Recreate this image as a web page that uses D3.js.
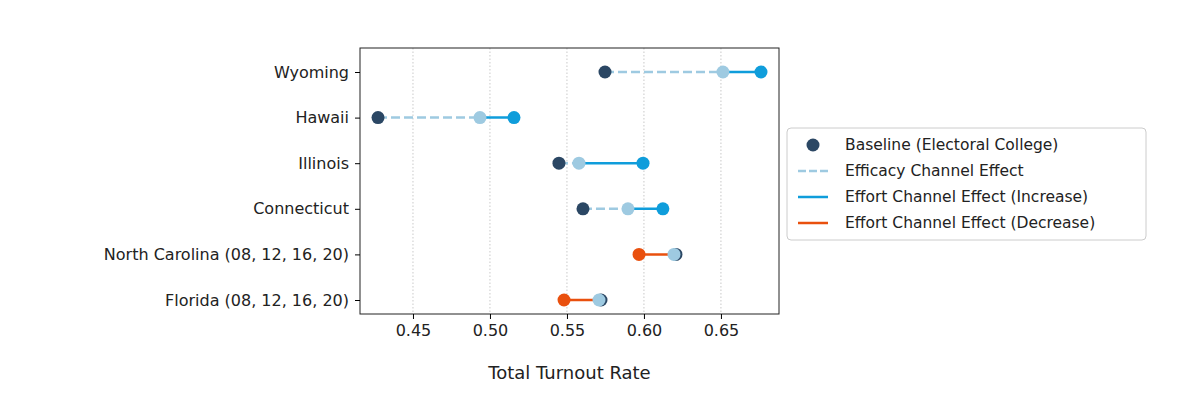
<!DOCTYPE html>
<html><head><meta charset="utf-8">
<script src="https://cdn.jsdelivr.net/npm/d3@7"></script>
<style>body{margin:0;background:#fff;font-family:"DejaVu Sans",sans-serif;}</style>
</head><body><svg id="c" width="1200" height="407"></svg>
<script>
var states = ["Wyoming", "Hawaii", "Illinois", "Connecticut", "North Carolina (08, 12, 16, 20)", "Florida (08, 12, 16, 20)"];
var baseline = [0.5747, 0.4273, 0.5448, 0.5604, 0.6208, 0.5721];
var efficacy = [0.6513, 0.4935, 0.5578, 0.5896, 0.6195, 0.5708];
var finalRate = [0.6760, 0.5156, 0.5994, 0.6123, 0.5968, 0.5481];
var xTicks = [0.45, 0.50, 0.55, 0.60, 0.65];

var dark = "#2b4764", light = "#9ecae1", blue = "#0f9ddb", orange = "#e9500e";
var pLeft = 360, pRight = 779, pTop = 48, pBottom = 314;
var svg = d3.select("#c");
var x = d3.scaleLinear().domain([0.4156, 0.6877]).range([pLeft, pRight]);
var y = d3.scalePoint().domain(states).range([72, 300]);

svg.selectAll("line.grid").data(xTicks).enter().append("line")
  .attr("x1", x).attr("x2", x).attr("y1", pTop).attr("y2", pBottom)
  .attr("stroke", "#bbb").attr("stroke-width", 0.8).attr("stroke-dasharray", "1.5,2");

var g = svg.append("g");
states.forEach(function (s, i) {
  var yy = y(s);
  g.append("line").attr("x1", x(baseline[i])).attr("x2", x(efficacy[i]))
    .attr("y1", yy).attr("y2", yy).attr("stroke", light).attr("stroke-width", 2.5)
    .attr("stroke-dasharray", "9,4");
  var up = finalRate[i] >= efficacy[i];
  g.append("line").attr("x1", x(efficacy[i])).attr("x2", x(finalRate[i]))
    .attr("y1", yy).attr("y2", yy).attr("stroke", up ? blue : orange).attr("stroke-width", 2.5);
  g.append("circle").attr("cx", x(baseline[i])).attr("cy", yy).attr("r", 6.5).attr("fill", dark);
  g.append("circle").attr("cx", x(efficacy[i])).attr("cy", yy).attr("r", 6.5).attr("fill", light);
  g.append("circle").attr("cx", x(finalRate[i])).attr("cy", yy).attr("r", 6.5).attr("fill", up ? blue : orange);
});

svg.append("rect").attr("x", pLeft).attr("y", pTop).attr("width", pRight - pLeft).attr("height", pBottom - pTop)
  .attr("fill", "none").attr("stroke", "#222").attr("stroke-width", 1);

svg.append("g").attr("transform", "translate(0," + pBottom + ")")
  .call(d3.axisBottom(x).tickValues(xTicks).tickFormat(d3.format(".2f")).tickSize(5).tickPadding(6))
  .call(function (a) { a.select(".domain").remove(); a.selectAll("text").attr("font-size", 16).attr("fill", "#222")
    .attr("font-family", "DejaVu Sans"); });
svg.append("g").attr("transform", "translate(" + pLeft + ",0)")
  .call(d3.axisLeft(y).tickSize(5).tickPadding(6))
  .call(function (a) { a.select(".domain").remove(); a.selectAll("text").attr("font-size", 16).attr("fill", "#222")
    .attr("font-family", "DejaVu Sans"); });

svg.append("text").attr("x", (pLeft + pRight) / 2).attr("y", 379).attr("text-anchor", "middle")
  .attr("font-size", 18).attr("fill", "#222").text("Total Turnout Rate");

var leg = svg.append("g").attr("transform", "translate(787,128)");
leg.append("rect").attr("width", 359).attr("height", 112).attr("rx", 4)
  .attr("fill", "#fff").attr("stroke", "#ccc");
var items = [
  {t: "Baseline (Electoral College)", type: "dot", c: dark},
  {t: "Efficacy Channel Effect", type: "dash", c: light},
  {t: "Effort Channel Effect (Increase)", type: "line", c: blue},
  {t: "Effort Channel Effect (Decrease)", type: "line", c: orange}
];
items.forEach(function (d, i) {
  var yy = 17 + i * 26;
  if (d.type === "dot") leg.append("circle").attr("cx", 26).attr("cy", yy).attr("r", 6.5).attr("fill", d.c);
  else leg.append("line").attr("x1", 11).attr("x2", 41).attr("y1", yy).attr("y2", yy)
    .attr("stroke", d.c).attr("stroke-width", 2.5).attr("stroke-dasharray", d.type === "dash" ? "8,3" : null);
  leg.append("text").attr("x", 58).attr("y", yy + 5).attr("font-size", 15.5).attr("fill", "#222").text(d.t);
});
</script></body></html>
